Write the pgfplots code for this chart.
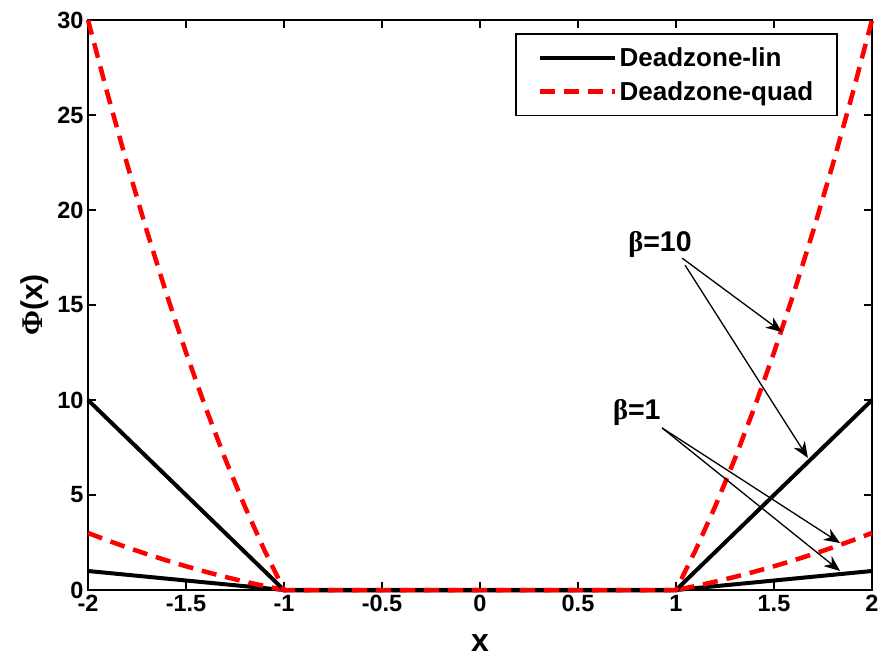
\documentclass[border=0pt]{standalone}
\usepackage{fontspec}
\setmainfont{Liberation Sans}
\newfontfamily\symfont{Liberation Serif}
\usepackage{pgfplots}
\pgfplotsset{compat=1.18}
\usetikzlibrary{arrows.meta}
\begin{document}
\begin{tikzpicture}
\path[use as bounding box] (-88pt,-67pt) rectangle (794pt,590pt);
\begin{axis}[
  at={(0pt,0pt)}, anchor=south west,
  scale only axis, width=784pt, height=570pt,
  xmin=-2, xmax=2, ymin=0, ymax=30,
  xtick={-2,-1.5,-1,-0.5,0,0.5,1,1.5,2},
  xticklabels={-2,-1.5,-1,-0.5,0,0.5,1,1.5,2},
  ytick={0,5,10,15,20,25,30},
  yticklabels={0,5,10,15,20,25,30},
  tick align=inside, major tick length=8pt,
  tick style={line width=1.2pt, black},
  axis line style={line width=2pt},
  ticklabel style={font=\fontsize{23.5}{26}\selectfont\bfseries},
  xticklabel style={yshift=-2pt},
  yticklabel style={xshift=-1pt},
  xlabel={\fontsize{32}{34}\selectfont\bfseries x},
  ylabel={\fontsize{30}{32}\selectfont\bfseries{\symfont Φ}(x)},
  xlabel style={yshift=-16pt},
  ylabel style={yshift=2pt},
  clip=false,
  legend style={at={(0.9566,0.977)}, anchor=north east, draw=black, line width=1.5pt,
    font=\fontsize{26}{30}\selectfont\bfseries, row sep=9pt, inner xsep=22pt, inner ysep=12pt},
  legend cell align=left,
  legend image code/.code={\draw[#1] (0pt,0pt) -- (75pt,0pt);},
]
% Deadzone-lin, beta = 1
\addplot[black, line width=4pt] coordinates {(-2,1) (-1,0) (1,0) (2,1)};
\addlegendentry{Deadzone-lin}
% Deadzone-quad, beta = 1
\addplot[red, line width=4.5pt, dash pattern=on 15pt off 9pt] coordinates {
(-2,3) (-1.9,2.61) (-1.8,2.24) (-1.7,1.89) (-1.6,1.56) (-1.5,1.25) (-1.4,0.96) (-1.3,0.69) (-1.2,0.44) (-1.1,0.21) (-1,0)
(1,0) (1.1,0.21) (1.2,0.44) (1.3,0.69) (1.4,0.96) (1.5,1.25) (1.6,1.56) (1.7,1.89) (1.8,2.24) (1.9,2.61) (2,3)};
\addlegendentry{Deadzone-quad}
% Deadzone-lin, beta = 10
\addplot[black, line width=4pt, forget plot] coordinates {(-2,10) (-1,0) (1,0) (2,10)};
% Deadzone-quad, beta = 10
\addplot[red, line width=4.5pt, dash pattern=on 15pt off 9pt, forget plot] coordinates {
(-2,30) (-1.9,26.1) (-1.8,22.4) (-1.7,18.9) (-1.6,15.6) (-1.5,12.5) (-1.4,9.6) (-1.3,6.9) (-1.2,4.4) (-1.1,2.1) (-1,0)
(1,0) (1.1,2.1) (1.2,4.4) (1.3,6.9) (1.4,9.6) (1.5,12.5) (1.6,15.6) (1.7,18.9) (1.8,22.4) (1.9,26.1) (2,30)};
% annotations
\node[font=\fontsize{28.5}{30}\selectfont\bfseries] at (axis cs:0.918,18.2) {{\symfont β}=10};
\node[font=\fontsize{28.5}{30}\selectfont\bfseries] at (axis cs:0.80,9.35) {{\symfont β}=1};
\draw[line width=1.3pt, -{Stealth[length=16pt,width=13pt,inset=5pt]}] (axis cs:1.031,17.47) -- (axis cs:1.541,13.58);
\draw[line width=1.3pt, -{Stealth[length=16pt,width=13pt,inset=5pt]}] (axis cs:1.046,17.1) -- (axis cs:1.673,6.95);
\draw[line width=1.3pt, -{Stealth[length=16pt,width=13pt,inset=5pt]}] (axis cs:0.929,8.53) -- (axis cs:1.837,2.47);
\draw[line width=1.3pt, -{Stealth[length=16pt,width=13pt,inset=5pt]}] (axis cs:0.929,8.53) -- (axis cs:1.837,1.0);
\end{axis}
\end{tikzpicture}
\end{document}
